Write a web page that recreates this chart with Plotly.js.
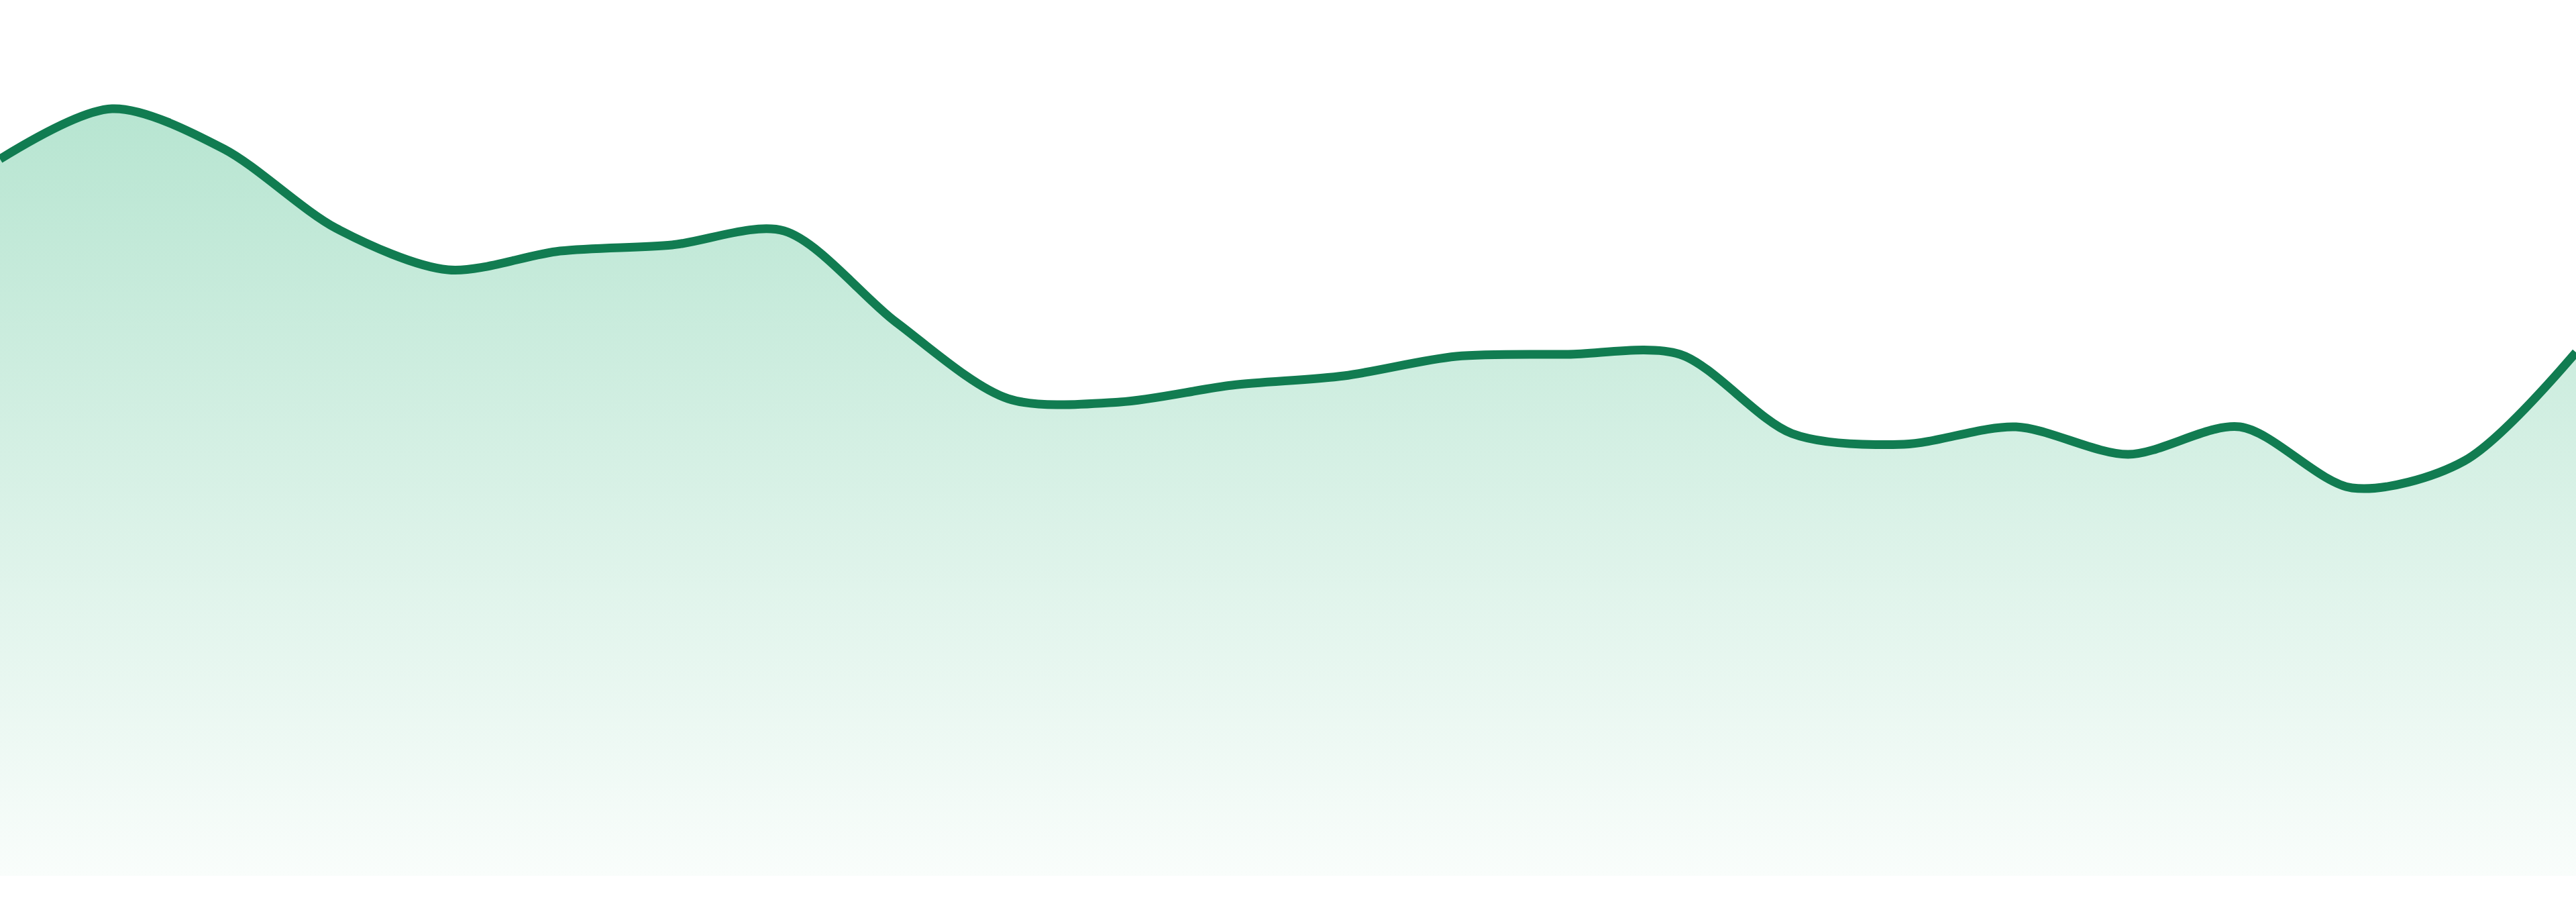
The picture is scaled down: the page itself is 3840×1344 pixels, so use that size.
<!DOCTYPE html>
<html>
<head>
<meta charset="utf-8">
<script src="https://cdn.plot.ly/plotly-3.0.1.min.js"></script>
<style>
    html, body { margin: 0; padding: 0; background: #ffffff; }
    #chart { width: 3840px; height: 1344px; }
</style>
</head>
<body>
<div id="chart"></div>
<script>
// periods along the x axis (one per point)
const periods = [0, 1, 2, 3, 4, 5, 6, 7, 8, 9, 10, 11, 12, 13, 14, 15, 16, 17, 18, 19, 20, 21, 22, 23];

// series values
const values = [1068, 1143, 1083, 965, 903, 931, 940, 961, 825, 711, 706, 731,
                745, 774, 777, 777, 659, 643, 669, 628, 669, 578, 618, 780];

// value axis extent
const yRange = [0, 1305];

const lineColor = '#117c51';

const trace = {
    x: periods,
    y: values,
    type: 'scatter',
    mode: 'lines',
    line: { color: lineColor, width: 13, shape: 'spline', smoothing: 0.85 },
    fill: 'tozeroy',
    fillgradient: {
        type: 'vertical',
        start: 0,
        stop: Math.max(...values),
        colorscale: [
            [0, 'rgb(249, 253, 251)'],
            [1, 'rgb(183, 229, 209)']
        ]
    },
    hoverinfo: 'skip'
};

const layout = {
    width: 3840,
    height: 1344,
    margin: { l: 0, r: 0, t: 0, b: 39, pad: 0 },
    paper_bgcolor: '#ffffff',
    plot_bgcolor: '#ffffff',
    showlegend: false,
    xaxis: {
        range: [periods[0], periods[periods.length - 1]],
        visible: false,
        fixedrange: true
    },
    yaxis: {
        range: yRange,
        visible: false,
        fixedrange: true
    }
};

Plotly.newPlot('chart', [trace], layout, { displayModeBar: false, staticPlot: true });
</script>
</body>
</html>
